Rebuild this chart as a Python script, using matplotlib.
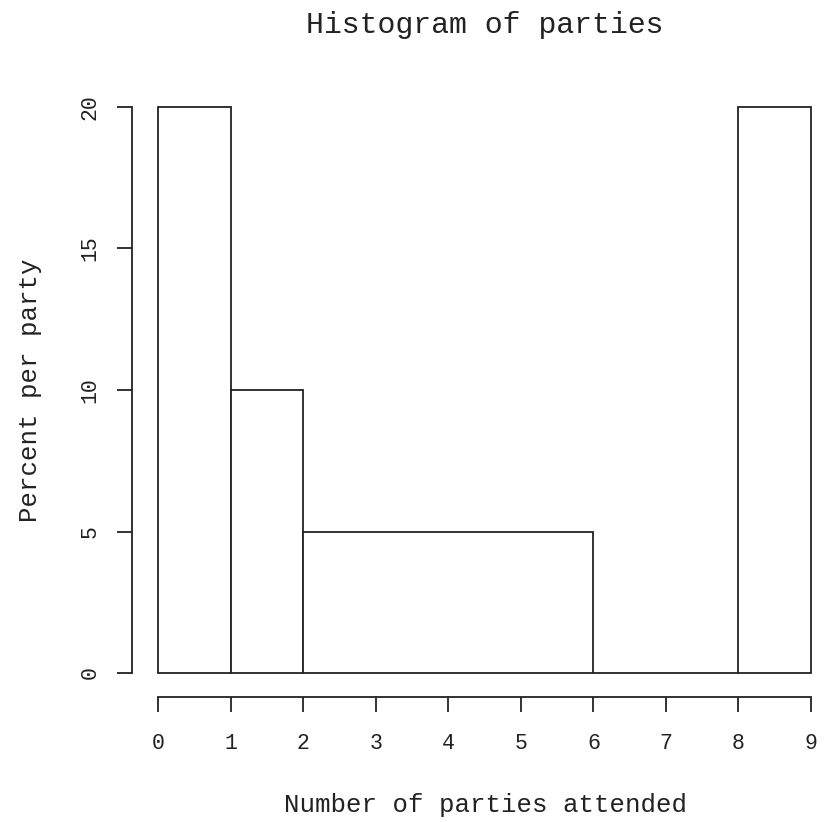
import numpy as np
import matplotlib.pyplot as plt

# histogram of party attendance (unequal bins)
edges = [0, 1, 2, 6, 8, 9]
heights = [20, 10, 5, 0, 20]
xticks = [0, 1, 2, 3, 4, 5, 6, 7, 8, 9]
yticks = [0, 5, 10, 15, 20]

W, H = 825, 822
fig = plt.figure(figsize=(W/100, H/100), dpi=100)
plt.rcParams['font.family'] = 'Liberation Mono'

# axes placed so that data box spans px 158..811 in x and 107..673 in y
ax = fig.add_axes([158/W, (H-673)/H, (811-158)/W, (673-107)/H])

lefts = np.array(edges[:-1])
widths = np.diff(edges)
bars = ax.bar(lefts, heights, width=widths, align='edge',
              facecolor='white', edgecolor='#222222', linewidth=1.3)
for b in bars:
    b.set_clip_on(False)

ax.set_xlim(0, 9)
ax.set_ylim(0, 20)

for s in ['top', 'right']:
    ax.spines[s].set_visible(False)
ax.spines['left'].set_position(('outward', 26*0.72))
ax.spines['bottom'].set_position(('outward', 24*0.72))
ax.spines['left'].set_bounds(0, 20)
ax.spines['bottom'].set_bounds(0, 9)
for s in ['left', 'bottom']:
    ax.spines[s].set_linewidth(1.3)
    ax.spines[s].set_color('#222222')

ax.set_xticks(xticks)
ax.set_yticks(yticks)
ax.tick_params(axis='both', length=15*0.72, width=1.3, color='#222222',
               labelsize=15.5, labelcolor='#222222')
ax.tick_params(axis='x', pad=15)
ax.tick_params(axis='y', pad=12)
for lab in ax.get_yticklabels():
    lab.set_rotation(90)
    lab.set_va('center')

fig.text(485/W, 1 - 25/H, 'Histogram of parties', ha='center', va='center',
         fontsize=21.5, color='#222222')
fig.text(485/W, 1 - 805/H, 'Number of parties attended', ha='center', va='center',
         fontsize=18.5, color='#222222')
fig.text(30/W, 1 - 390/H, 'Percent per party', ha='center', va='center',
         rotation=90, fontsize=18.5, color='#222222')

fig.savefig('out.png', dpi=100)
